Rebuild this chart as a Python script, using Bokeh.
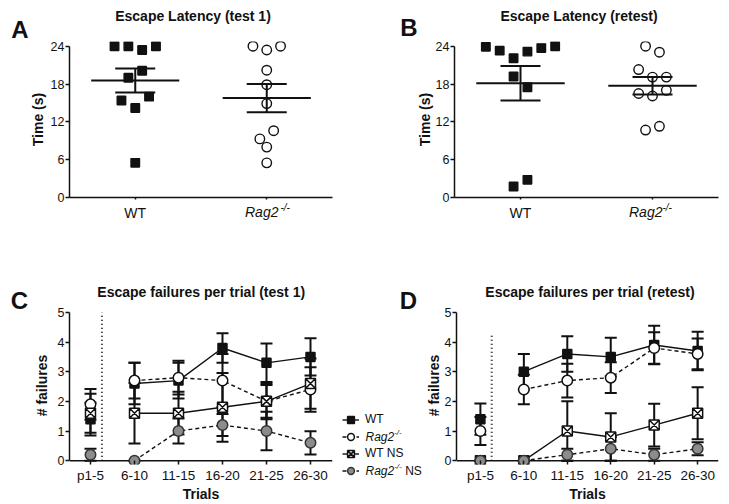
import numpy as np
from bokeh.plotting import figure
from bokeh.models import (ColumnDataSource, Whisker, TeeHead, Label, Legend,
                          LegendItem, FixedTicker, Range1d, Span)
from bokeh.layouts import column, row
from bokeh.embed import file_html
from bokeh.resources import INLINE

FONT = "Liberation Sans"
INK = "#111111"
GREY = "#8c8c8c"

# ---------------- data ----------------
groups = ["WT", "Rag2"]
latency_test1_wt = [24.0, 24.0, 23.4, 24.0, 19.0, 20.1, 15.4, 14.2, 16.0, 5.5]
latency_test1_rag = [24.0, 23.4, 24.0, 20.2, 17.9, 14.9, 9.3, 10.6, 8.0, 5.5]
latency_retest_wt = [23.9, 23.3, 22.1, 23.15, 23.7, 24.0, 19.2, 17.5, 1.75, 2.8]
latency_retest_rag = [24.0, 23.05, 20.3, 19.1, 19.1, 16.5, 16.1, 17.0, 10.7, 11.3]
latency_ticks = [0, 6, 12, 18, 24]

trials = ["p1-5", "6-10", "11-15", "16-20", "21-25", "26-30"]
failure_ticks = [0, 1, 2, 3, 4, 5]

test1_wt = [1.4, 2.6, 2.7, 3.8, 3.3, 3.5]
test1_wt_sem = [0.55, 0.70, 0.60, 0.50, 0.65, 0.63]
test1_rag = [1.9, 2.7, 2.8, 2.7, 2.0, 2.4]
test1_rag_sem = [0.52, 0.60, 0.57, 0.90, 0.55, 0.75]
test1_wtns = [1.6, 1.6, 1.6, 1.8, 2.0, 2.6]
test1_wtns_sem = [0.66, 1.02, 0.72, 1.16, 0.60, 0.85]
test1_ragns = [0.2, 0.0, 1.0, 1.2, 1.0, 0.6]
test1_ragns_sem = [0.20, 0.0, 0.42, 0.37, 0.65, 0.39]

retest_wt = [1.4, 3.0, 3.6, 3.5, 3.9, 3.7]
retest_wt_sem = [0.53, 0.60, 0.60, 0.65, 0.65, 0.65]
retest_rag = [1.0, 2.4, 2.7, 2.8, 3.8, 3.6]
retest_rag_sem = [0.47, 0.50, 0.57, 0.52, 0.53, 0.52]
retest_wtns = [0.0, 0.0, 1.0, 0.8, 1.2, 1.6]
retest_wtns_sem = [0.0, 0.0, 1.0, 0.8, 0.72, 0.88]
retest_ragns = [0.0, 0.0, 0.2, 0.4, 0.2, 0.4]
retest_ragns_sem = [0.0, 0.0, 0.2, 0.4, 0.2, 0.22]

# ---------------- layout / style constants ----------------
STEP = 0.0525      # horizontal swarm step (data units)
ROW_TOL = 2.2      # values closer than this share a swarm row
HALF_MEAN = 0.335  # half width of mean line (data units)
SEP_X = 0.26       # dotted separator between p1-5 and trials
SPECS = [("square", INK, INK, 9, None), ("circle", "white", INK, 10.5, "4 3"),
         ("square_x", "white", INK, 10, None), ("circle", GREY, "#333333", 10.5, "4 3")]


def swarm(vals):
    vals = np.asarray(vals, float)
    order = sorted(range(len(vals)), key=lambda i: -vals[i])
    rows = []
    for i in order:
        if rows and vals[rows[-1][0]] - vals[i] <= ROW_TOL:
            rows[-1].append(i)
        else:
            rows.append([i])
    offs = np.zeros(len(vals))
    for r in rows:
        r = sorted(r)
        n = len(r)
        for k, i in enumerate(r):
            offs[i] = 2 * k - (n - 1)
    return offs


def style(p):
    p.grid.visible = False
    p.outline_line_color = None
    p.background_fill_color = "white"
    p.border_fill_color = "white"
    for ax in (p.xaxis[0], p.yaxis[0]):
        ax.axis_line_width = 1.5
        ax.axis_line_color = INK
        ax.major_tick_line_width = 1.5
        ax.major_tick_line_color = INK
        ax.major_tick_in = 0
        ax.minor_tick_line_color = None
        ax.major_label_text_font = FONT
        ax.major_label_text_color = INK
        ax.axis_label_text_font = FONT
        ax.axis_label_text_font_style = "bold"
        ax.axis_label_text_font_size = "14px"
        ax.axis_label_text_color = INK
    p.yaxis.major_tick_out = 4
    p.yaxis.major_label_standoff = 1
    p.yaxis.major_label_text_font_size = "12.5px"
    p.xaxis.major_label_text_font_size = "13.5px"


def put(p, geo, side, text, px, py, size, fstyle="bold", align="center", baseline="middle"):
    fl, fb, fw, fh = geo
    xr, yr = p.x_range, p.y_range
    x = xr.start + (px - fl) / fw * (xr.end - xr.start)
    y = yr.start + (fb - py) / fh * (yr.end - yr.start)
    lab = Label(x=x, y=y, text=text, text_font=FONT, text_font_size=size,
                text_font_style=fstyle, text_align=align,
                text_baseline=baseline, text_color=INK)
    if side is None:
        p.add_layout(lab)
    else:
        p.add_layout(lab, side)


def latency_panel(wt, rag, x0, width, left, right, title, letter,
                  title_xy, letter_xy, rag_x, ylab_standoff):
    top, fh, height = 41, 156, 250
    fw = width - left - right
    p = figure(width=width, height=height, x_range=Range1d(-0.5, 1.5),
               y_range=Range1d(0, 24.75), min_border_left=left, min_border_right=right,
               min_border_top=top, min_border_bottom=height - top - fh,
               output_backend="svg", toolbar_location=None)
    style(p)
    p.yaxis.ticker = FixedTicker(ticks=latency_ticks)
    p.yaxis.bounds = (0, 24)
    p.yaxis.axis_label = "Time (s)"
    p.yaxis.axis_label_standoff = ylab_standoff
    p.xaxis.ticker = FixedTicker(ticks=[0, 1])
    p.xaxis.major_label_overrides = {0: groups[0], 1: " "}
    p.xaxis.major_tick_out = 2
    p.xaxis.major_label_standoff = 5
    p.xaxis.major_label_text_font_size = "14px"
    for gi, (vals, marker, fill, size) in enumerate(
            [(wt, "square", INK, 8.5), (rag, "circle", "white", 9.5)]):
        v = np.asarray(vals, float)
        xs = gi + swarm(v) * STEP
        p.scatter(xs, v, marker=marker, size=size, fill_color=fill,
                  line_color=INK, line_width=1.4)
        m = v.mean()
        s = v.std(ddof=1) / np.sqrt(len(v))
        p.segment(x0=[gi - HALF_MEAN], x1=[gi + HALF_MEAN], y0=[m], y1=[m],
                  line_width=2, line_color=INK)
        src = ColumnDataSource(dict(base=[gi], upper=[m + s], lower=[m - s]))
        p.add_layout(Whisker(source=src, base="base", upper="upper", lower="lower",
                             dimension="height", line_width=2, line_color=INK, level="overlay",
                             upper_head=TeeHead(size=40, line_width=2, line_color=INK),
                             lower_head=TeeHead(size=40, line_width=2, line_color=INK)))
    geo = (x0 + left, top + fh, fw, fh)
    put(p, geo, "above", title, title_xy[0], title_xy[1], "14px")
    put(p, geo, "left", letter, letter_xy[0], letter_xy[1], "24px")
    put(p, geo, "below", groups[1], rag_x[0], 203.5, "14px", "italic", "left", "top")
    put(p, geo, "right", "-/-", rag_x[1], 201.5, "10px", "italic", "left", "top")
    return p


def failures_panel(series, x0, width, left, right, xr, title, letter, title_xy,
                   letter_xy, sep_top, label_standoff):
    y0, top, fh, height = 250, 56, 161, 254
    fw = width - left - right
    p = figure(width=width, height=height, x_range=Range1d(*xr),
               y_range=Range1d(-0.13, 5.2), min_border_left=left, min_border_right=right,
               min_border_top=top, min_border_bottom=height - top - fh,
               output_backend="svg", toolbar_location=None)
    style(p)
    p.yaxis.ticker = FixedTicker(ticks=failure_ticks)
    p.yaxis.bounds = (0, 5)
    p.yaxis.axis_label = "# failures"
    p.yaxis.axis_label_standoff = label_standoff
    xs = np.arange(len(trials))
    p.xaxis.ticker = FixedTicker(ticks=list(xs))
    p.xaxis.major_label_overrides = {int(i): t for i, t in enumerate(trials)}
    p.xaxis.axis_line_color = None
    p.xaxis.major_tick_in = 4
    p.xaxis.major_tick_out = 0
    p.xaxis.major_label_standoff = 3
    p.xaxis.axis_label = "Trials"
    p.xaxis.axis_label_standoff = 0
    p.add_layout(Span(location=0, dimension="width", line_color=INK, line_width=1.5,
                      level="underlay"))

    p.segment(x0=[SEP_X], x1=[SEP_X], y0=[0], y1=[sep_top], line_dash="1 3",
              line_width=2, line_color=INK)

    for (vals, sem), (marker, fill, edge, size, dash) in zip(series, SPECS):
        v = np.asarray(vals, float)
        e = np.asarray(sem, float)
        kw = dict(line_width=1.4, line_color=INK)
        if dash:
            kw["line_dash"] = dash
        p.line(xs[1:], v[1:], **kw)
        src = ColumnDataSource(dict(base=xs, upper=v + e, lower=v - e))
        p.add_layout(Whisker(source=src, base="base", upper="upper", lower="lower",
                             dimension="height", line_width=2, line_color=INK, level="underlay",
                             upper_head=TeeHead(size=12, line_width=2, line_color=INK),
                             lower_head=TeeHead(size=12, line_width=2, line_color=INK)))
    for (vals, sem), (marker, fill, edge, size, dash) in zip(series, SPECS):
        p.scatter(xs, vals, marker=marker, size=size, fill_color=fill,
                  line_color=edge, line_width=1.5)
    geo = (x0 + left, y0 + top + fh, fw, fh)
    put(p, geo, "above", title, title_xy[0], title_xy[1], "14px")
    if letter:
        put(p, geo, "left", letter, letter_xy[0], letter_xy[1], "24px")
    return p


def legend_panel(x0, width, letter_xy):
    y0, height = 250, 254
    gx, gw, gs = 8, 17, 6
    p = figure(width=width, height=height, x_range=Range1d(0, width),
               y_range=Range1d(0, height), min_border=0, x_axis_type=None,
               y_axis_type=None, output_backend="svg", toolbar_location=None,
               frame_align=False)
    p.grid.visible = False
    p.outline_line_color = None
    p.border_fill_color = "white"
    items = []
    names = ["WT", " ", "WT NS", " "]
    for name, (marker, fill, edge, size, dash) in zip(names, SPECS):
        kw = dict(line_width=1.4, line_color=INK)
        if dash:
            kw["line_dash"] = dash
        ln = p.line([np.nan], [np.nan], **kw)
        mk = p.scatter([np.nan], [np.nan], marker=marker, size=size, fill_color=fill,
                       line_color=edge, line_width=1.5)
        items.append(LegendItem(label=name, renderers=[ln, mk]))
    leg = Legend(items=items, location=(gx, 504 - 478.5),
                 padding=0, margin=0, spacing=0, glyph_width=gw, glyph_height=17,
                 label_height=17, label_standoff=gs, label_text_font=FONT,
                 label_text_font_size="12px", label_text_color=INK,
                 border_line_color=None, background_fill_alpha=0)
    p.add_layout(leg)
    geo = (x0, y0 + height, width, height)
    text_x = x0 + gx + gw + gs
    for yy in (436, 470):
        put(p, geo, None, groups[1], text_x, yy, "12px", "italic", "left")
        put(p, geo, None, "-/-", text_x + 28.7, yy - 4, "8px", "italic", "left")
    put(p, geo, None, "NS", text_x + 28.7 + 7.7 + 3.3, 470, "12px", "normal", "left")
    put(p, geo, None, "D", letter_xy[0], letter_xy[1], "24px")
    return p


pA = latency_panel(latency_test1_wt, latency_test1_rag, 0, 360, 69, 28,
                   "Escape Latency (test 1)", "A", (192.5, 15), (19.5, 28.5), (244.5, 280), 2)
pB = latency_panel(latency_retest_wt, latency_retest_rag, 360, 369, 94, 11,
                   "Escape Latency (retest)", "B", (578.5, 15), (408.5, 27), (628.5, 662), 0)

pC = failures_panel([(test1_wt, test1_wt_sem), (test1_rag, test1_rag_sem),
                     (test1_wtns, test1_wtns_sem), (test1_ragns, test1_ragns_sem)],
                    0, 334, 69, 2, (-0.477, 5.5), "Escape failures per trial (test 1)", "C",
                    (200.7, 291.7), (19, 299.5), 5, 5)
pL = legend_panel(334, 88, (408, 299.5))
pD = failures_panel([(retest_wt, retest_wt_sem), (retest_rag, retest_rag_sem),
                     (retest_wtns, retest_wtns_sem), (retest_ragns, retest_ragns_sem)],
                    422, 307, 32, 11, (-0.55, 5.48), "Escape failures per trial (retest)", None,
                    (588.5, 291.7), None, 4.3, 0)

layout = column(row(pA, pB), row(pC, pL, pD))
open("out.html", "w").write(file_html(layout, INLINE))
